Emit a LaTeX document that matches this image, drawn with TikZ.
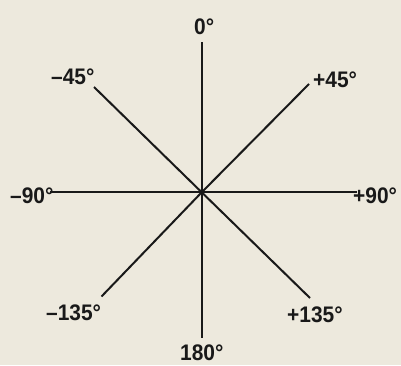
\documentclass[tikz,border=0pt]{standalone}
\usepackage{fontspec}
\setmainfont{Liberation Sans}[FakeStretch=0.93]
\definecolor{paper}{RGB}{237,233,221}
\definecolor{ink}{RGB}{25,25,25}
\tikzset{
  axis/.style = {line width=2pt, color=ink},
  angle label/.style = {anchor=base west, inner sep=0pt, text=ink,
    font=\bfseries\fontsize{22.5}{22.5}\selectfont}
}

\begin{document}
\begin{tikzpicture}[x=1pt,y=1pt]
  \fill[paper] (0,0) rectangle (401,365);
  \useasboundingbox (0,0) rectangle (401,365);
  \pgfmathsetmacro{\cx}{201.7};
  \pgfmathsetmacro{\cy}{172.7};
  \coordinate (o) at (\cx,\cy);
  % ends of the eight rays
  \coordinate (n0) at (\cx,323);
  \coordinate (n180) at (\cx,27);
  \coordinate (nm90) at (50,\cy);
  \coordinate (np90) at (357,\cy);
  \coordinate (nm45) at (94,278);
  \coordinate (np45) at (309,281);
  \coordinate (nm135) at (101.5,68.5);
  \coordinate (np135) at (310,67);
  \draw[axis] (o) -- (n0);
  \draw[axis] (o) -- (n180);
  \draw[axis] (o) -- (nm90);
  \draw[axis] (o) -- (np90);
  \draw[axis] (o) -- (nm45);
  \draw[axis] (o) -- (np45);
  \draw[axis] (o) -- (nm135);
  \draw[axis] (o) -- (np135);
  % angle labels
  \node[angle label] (l0) at (194,330) {0°};
  \node[angle label] (lm45) at (51,280) {–45°};
  \node[angle label] (lp45) at (313,278) {+45°};
  \node[angle label] (lm90) at (10,162) {–90°};
  \node[angle label] (lp90) at (353,162) {+90°};
  \node[angle label] (lm135) at (46,45) {–135°};
  \node[angle label] (lp135) at (287,43) {+135°};
  \node[angle label] (l180) at (180,5) {180°};
\end{tikzpicture}
\end{document}
